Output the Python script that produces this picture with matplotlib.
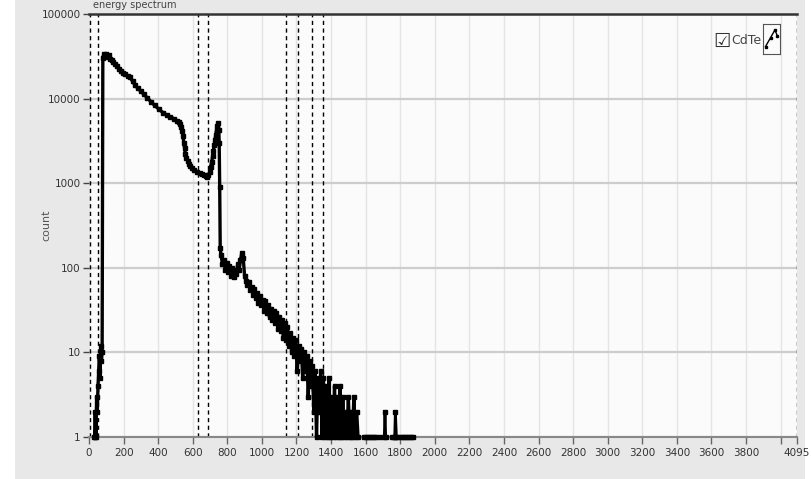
import numpy as np
import matplotlib
matplotlib.use('Agg')
import matplotlib.pyplot as plt
from matplotlib.patches import Rectangle

plt.rcParams['font.family'] = ['Liberation Sans Narrow', 'DejaVu Sans']

# --- data ---
# rising edge at the low-energy end
rise_ch = [28, 32, 36, 40, 44, 48, 52, 56, 60, 64, 68, 72, 76]
rise_ct = [1, 1, 2, 1, 3, 2, 4, 6, 9, 5, 12, 8, 10]

# smooth continuum and the photo-peak
cont_ch = [80, 86, 93, 100, 108, 116, 124, 131, 139, 150, 160, 172, 185, 198, 210,
           224, 238, 252, 265, 282, 300, 318, 336, 358, 380, 404, 429, 450, 470,
           490, 510, 518, 525, 532, 539, 544, 548, 553, 557, 563, 570, 578, 586,
           598, 610, 626, 643, 655, 665, 675, 684, 691, 698, 704, 710, 715, 719,
           724, 728, 733, 738, 743, 748, 751, 753, 756, 759]
cont_ct = [30000, 34000, 32500, 33500, 31000, 32500, 29000, 28500, 26800, 25500,
           24000, 22500, 21000, 20000, 19500, 18500, 17800, 16000, 14500, 13300,
           12200, 11200, 10300, 9200, 8300, 7500, 6800, 6400, 6100, 5800,
           5470, 5300, 5000, 4600, 4170, 3600, 3000, 2600, 2210, 2000,
           1850, 1700, 1590, 1500, 1420, 1370, 1320, 1280, 1240, 1210,
           1190, 1260, 1350, 1550, 1800, 2100, 2400, 2800, 3200, 3700,
           4300, 4800, 5200, 4200, 3000, 900, 170]

# noisy high-energy tail (8-channel steps)
tail_ch = [764, 772, 780, 788, 796, 804, 812, 820, 828, 836, 844, 852, 860, 868,
           876, 884, 892, 900, 908, 916, 924, 932, 940, 948, 956, 964, 972, 980,
           988, 996, 1004, 1012, 1020, 1028, 1036, 1044, 1052, 1060, 1068, 1076,
           1084, 1092, 1100, 1108, 1116, 1124, 1132, 1140, 1148, 1156, 1164, 1172,
           1180, 1188, 1196, 1204, 1212, 1220, 1228, 1236, 1244, 1252, 1260, 1268,
           1276, 1284, 1292, 1300, 1308, 1316, 1324, 1332, 1340, 1348, 1356, 1364,
           1372, 1380, 1388, 1396, 1404, 1412, 1420, 1428, 1436, 1444, 1452, 1460,
           1468, 1476, 1484, 1492, 1500, 1508, 1516, 1524, 1532, 1540, 1548, 1556]
tail_ct = [140, 110, 125, 95, 115, 90, 105, 80, 100, 78, 95, 85, 110, 95,
           125, 150, 130, 80, 70, 62, 68, 55, 60, 48, 56, 44, 50, 38,
           47, 36, 42, 31, 40, 29, 36, 26, 33, 24, 31, 22,
           29, 19, 26, 18, 24, 15, 22, 14, 20, 12, 17, 10,
           15, 9, 14, 6, 12, 8, 11, 5, 10, 6, 9, 3,
           8, 4, 7, 2, 6, 1, 5, 2, 6, 1, 5, 1,
           4, 1, 5, 1, 3, 1, 4, 1, 3, 1, 4, 1,
           3, 1, 2, 1, 3, 1, 2, 1, 3, 1, 2, 1]

# sparse single counts beyond the tail (nan = gap)
sparse_ch = [1590, 1600, 1612, 1624, 1636, 1648, 1660, np.nan, 1684, np.nan,
             1708, 1712, 1716, np.nan, 1752, 1762, 1768, 1772, 1778, 1790, 1802,
             1814, np.nan, 1828, 1840, 1852, 1864, 1874]
sparse_ct = [1, 1, 1, 1, 1, 1, 1, np.nan, 1, np.nan,
             1, 2, 1, np.nan, 1, 1, 1, 2, 1, 1, 1,
             1, np.nan, 1, 1, 1, 1, 1]

# ROI marker lines (channels)
roi_ch = [8, 50, 630, 686, 1142, 1206, 1290, 1356, 4095]

x_ticks = list(range(0, 4001, 200)) + [4095]
x_labels = [str(t) for t in range(0, 3801, 200)] + ['', '4095']
y_ticks = [1, 10, 100, 1000, 10000, 100000]
y_labels = ['1', '10', '100', '1000', '10000', '100000']

channels = rise_ch + cont_ch + tail_ch
counts = rise_ct + cont_ct + tail_ct

fig = plt.figure(figsize=(8.11, 4.79), dpi=100)
fig.patch.set_facecolor('white')
# grey panel behind the plot
fig.patches.append(Rectangle((15 / 811, 0), 790 / 811, 1, transform=fig.transFigure,
                             facecolor='#e8e8e8', edgecolor='none', zorder=-10))

ax = fig.add_axes([89 / 811, 1 - 437 / 479, 708 / 811, 423 / 479])
ax.set_facecolor('#fbfbfb')
ax.set_yscale('log')
ax.set_xlim(0, 4095)
ax.set_ylim(1, 100000)

# grid
for t in x_ticks[:-1]:
    ax.axvline(t, color='#e4e4e4', lw=1, zorder=0)
for t in y_ticks:
    ax.axhline(t, color='#cdcdcd', lw=1.6, zorder=0)

# ROI dashed lines
for c in roi_ch:
    ax.axvline(c, color='black', lw=1, ls=(0, (3, 2.5)), zorder=2)

# spectrum
ax.plot(channels, counts, color='black', lw=2.4, marker='s', ms=3.2, clip_on=False, zorder=3)
ax.plot(sparse_ch, sparse_ct, color='black', lw=2.0, marker='s', ms=3.2, clip_on=False, zorder=3)

ax.set_xticks(x_ticks)
ax.set_xticklabels(x_labels)
ax.set_yticks(y_ticks)
ax.set_yticklabels(y_labels)
ax.yaxis.set_minor_locator(matplotlib.ticker.NullLocator())
ax.tick_params(axis='x', length=5, width=1, color='#666666', labelsize=7.5, labelcolor='#333333', pad=3)
ax.tick_params(axis='y', length=4, width=1, color='#444444', labelsize=7.5, labelcolor='#333333', pad=2)

ax.spines['top'].set_color('#333333')
ax.spines['top'].set_linewidth(1.8)
ax.spines['bottom'].set_color('#888888')
ax.spines['bottom'].set_linewidth(1.5)
ax.spines['left'].set_visible(False)
ax.spines['right'].set_visible(False)

fig.text(46 / 811, 1 - 225 / 479, 'count', fontsize=8, color='#555555', rotation=90,
         va='center', ha='center')

# title at the very top, as in the reference
fig.text(93 / 811, 1.0, 'energy spectrum', fontsize=7, color='#444444', va='top', ha='left')

# legend: checkbox + name + line icon
fig.text(713 / 811, 1 - 41 / 479, '\u2611', fontsize=14, color='#333333', va='center', ha='left',
         family='DejaVu Sans')
fig.text(731 / 811, 1 - 41 / 479, 'CdTe', fontsize=9, color='#444444', va='center', ha='left')
icon_x = [0.15, 0.45, 0.7, 0.85]
icon_y = [0.25, 0.55, 0.8, 0.6]
iax = fig.add_axes([763 / 811, 1 - 54 / 479, 17 / 811, 30 / 479])
iax.plot(icon_x, icon_y, color='black', lw=1, marker='s', ms=2)
iax.set_xlim(0, 1)
iax.set_ylim(0, 1)
iax.set_xticks([])
iax.set_yticks([])
for s in iax.spines.values():
    s.set_color('#555555')
iax.set_facecolor('#fbfbfb')

fig.savefig('out.png', dpi=100, facecolor=fig.get_facecolor())
